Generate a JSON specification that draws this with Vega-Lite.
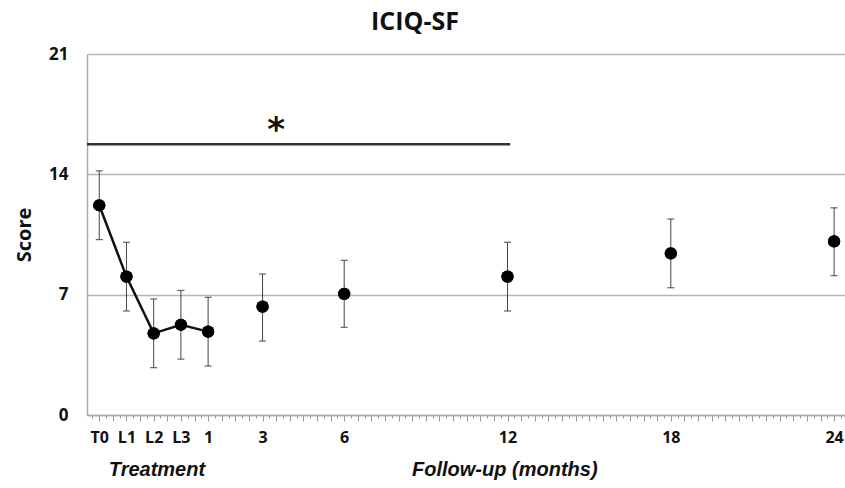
{
  "$schema": "https://vega.github.io/schema/vega-lite/v6.json",
  "autosize": "none",
  "width": 758,
  "height": 361,
  "padding": {"left": 87, "top": 54, "right": 0, "bottom": 73},
  "background": "white",
  "title": {"text": "ICIQ-SF", "font": "Open Sans", "fontSize": 25, "fontWeight": "bold", "color": "#111", "offset": 10, "anchor": "middle", "dx": -51},
  "config": {"view": {"stroke": null}},
  "datasets": {
    "pts": [
      {"t": -3, "phase": "Treatment", "mean": 12.2, "lo": 10.2, "hi": 14.2},
      {"t": -2, "phase": "Treatment", "mean": 8.05, "lo": 6.05, "hi": 10.05},
      {"t": -1, "phase": "Treatment", "mean": 4.75, "lo": 2.75, "hi": 6.75},
      {"t": 0, "phase": "Treatment", "mean": 5.25, "lo": 3.25, "hi": 7.25},
      {"t": 1, "phase": "Treatment", "mean": 4.85, "lo": 2.85, "hi": 6.85},
      {"t": 3, "phase": "Follow-up", "mean": 6.3, "lo": 4.3, "hi": 8.2},
      {"t": 6, "phase": "Follow-up", "mean": 7.05, "lo": 5.1, "hi": 9.0},
      {"t": 12, "phase": "Follow-up", "mean": 8.05, "lo": 6.05, "hi": 10.05},
      {"t": 18, "phase": "Follow-up", "mean": 9.4, "lo": 7.4, "hi": 11.4},
      {"t": 24, "phase": "Follow-up", "mean": 10.1, "lo": 8.1, "hi": 12.05}
    ],
    "sig": [{"x1": -3.45, "x2": 12.1, "y": 15.75, "tx": 3.5, "ty": 15.55, "mark": "*"}],
    "notes": [
      {"label": "Treatment", "x": -0.88, "y": -3.2},
      {"label": "Follow-up (months)", "x": 11.9, "y": -3.2}
    ]
  },
  "layer": [
    {
      "data": {"name": "pts"},
      "mark": {"type": "circle", "color": "#000", "opacity": 1, "size": 150},
      "encoding": {
        "x": {
          "field": "t", "type": "quantitative",
          "scale": {"domain": [-3.45, 24.4], "nice": false, "zero": false},
          "axis": {
            "title": null,
            "tickCount": 500,
            "values": [-3.25,-3,-2.75,-2.5,-2.25,-2,-1.75,-1.5,-1.25,-1,-0.75,-0.5,-0.25,0,0.25,0.5,0.75,1,1.25,1.5,1.75,2,2.25,2.5,2.75,3,3.25,3.5,3.75,4,4.25,4.5,4.75,5,5.25,5.5,5.75,6,6.25,6.5,6.75,7,7.25,7.5,7.75,8,8.25,8.5,8.75,9,9.25,9.5,9.75,10,10.25,10.5,10.75,11,11.25,11.5,11.75,12,12.25,12.5,12.75,13,13.25,13.5,13.75,14,14.25,14.5,14.75,15,15.25,15.5,15.75,16,16.25,16.5,16.75,17,17.25,17.5,17.75,18,18.25,18.5,18.75,19,19.25,19.5,19.75,20,20.25,20.5,20.75,21,21.25,21.5,21.75,22,22.25,22.5,22.75,23,23.25,23.5,23.75,24,24.25],
            "labelExpr": "datum.value == -3 ? 'T0' : datum.value == -2 ? 'L1' : datum.value == -1 ? 'L2' : datum.value == 0 ? 'L3' : (datum.value == 1 || datum.value == 3 || datum.value == 6 || datum.value == 12 || datum.value == 18 || datum.value == 24) ? '' + datum.value : ''",
            "labelOverlap": false,
            "labelFlush": false,
            "labelBound": false,
            "labelFont": "Open Sans",
            "labelFontSize": 16,
            "labelFontWeight": "bold",
            "labelColor": "#111",
            "labelPadding": 8,
            "tickSize": {"condition": {"test": "datum.value % 0.5 == 0", "value": 6}, "value": 3},
            "tickColor": "#999",
            "domainColor": "#aaa",
            "domainWidth": 1.5,
            "grid": false
          }
        },
        "y": {
          "field": "mean", "type": "quantitative",
          "scale": {"domain": [0, 21], "nice": false},
          "axis": {
            "title": "Score",
            "values": [0, 7, 14, 21],
            "titleFont": "Open Sans", "titleFontSize": 20, "titleFontWeight": "bold", "titleColor": "#111",
            "titlePadding": 14,
            "labelFont": "Open Sans", "labelFontSize": 17, "labelFontWeight": "bold", "labelColor": "#111",
            "labelPadding": 19,
            "ticks": false,
            "domainColor": "#aaa",
            "domainWidth": 1.5,
            "grid": true,
            "gridColor": "#b5b5b5",
            "gridWidth": 1.5
          }
        }
      }
    },
    {
      "data": {"name": "pts"},
      "mark": {"type": "rule", "color": "#444", "strokeWidth": 1},
      "encoding": {
        "x": {"field": "t", "type": "quantitative"},
        "y": {"field": "lo", "type": "quantitative"},
        "y2": {"field": "hi"}
      }
    },
    {
      "data": {"name": "pts"},
      "mark": {"type": "tick", "orient": "horizontal", "color": "#444", "thickness": 1, "size": 7, "opacity": 1},
      "encoding": {
        "x": {"field": "t", "type": "quantitative"},
        "y": {"field": "lo", "type": "quantitative"}
      }
    },
    {
      "data": {"name": "pts"},
      "mark": {"type": "tick", "orient": "horizontal", "color": "#444", "thickness": 1, "size": 7, "opacity": 1},
      "encoding": {
        "x": {"field": "t", "type": "quantitative"},
        "y": {"field": "hi", "type": "quantitative"}
      }
    },
    {
      "data": {"name": "pts"},
      "transform": [{"filter": "datum.phase === 'Treatment'"}],
      "mark": {"type": "line", "color": "#111", "strokeWidth": 2.5},
      "encoding": {
        "x": {"field": "t", "type": "quantitative"},
        "y": {"field": "mean", "type": "quantitative"}
      }
    },
    {
      "data": {"name": "pts"},
      "mark": {"type": "circle", "color": "#000", "opacity": 1, "size": 150},
      "encoding": {
        "x": {"field": "t", "type": "quantitative"},
        "y": {"field": "mean", "type": "quantitative"}
      }
    },
    {
      "data": {"name": "sig"},
      "mark": {"type": "rule", "color": "#333", "strokeWidth": 2.5},
      "encoding": {
        "x": {"field": "x1", "type": "quantitative"},
        "x2": {"field": "x2"},
        "y": {"field": "y", "type": "quantitative"}
      }
    },
    {
      "data": {"name": "sig"},
      "mark": {"type": "text", "font": "DejaVu Sans", "fontSize": 34, "fontWeight": "bold", "color": "#111", "baseline": "bottom"},
      "encoding": {
        "x": {"field": "tx", "type": "quantitative"},
        "y": {"field": "ty", "type": "quantitative"},
        "text": {"field": "mark"}
      }
    },
    {
      "data": {"name": "notes"},
      "mark": {"type": "text", "font": "Liberation Sans", "fontSize": 20, "fontWeight": "bold", "fontStyle": "italic", "color": "#111", "clip": false},
      "encoding": {
        "x": {"field": "x", "type": "quantitative"},
        "y": {"field": "y", "type": "quantitative"},
        "text": {"field": "label"}
      }
    }
  ]
}
